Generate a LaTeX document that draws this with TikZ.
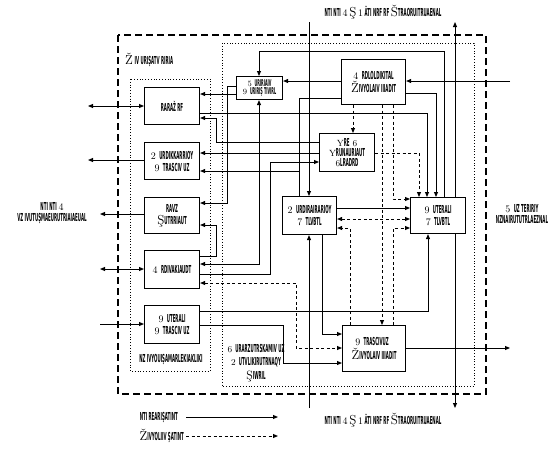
\documentclass[tikz,border=0pt]{standalone}
\usepackage{fontspec}
\newfontfamily\czf{DejaVu Sans}
\usetikzlibrary{arrows.meta}
\newcommand{\cz}[1]{\scalebox{0.36}[1]{\czf\bfseries\fontsize{11}{12}\selectfont #1}}
\tikzset{
  box/.style={draw, line width=1.1pt, anchor=north west, inner sep=1pt, align=center, font=\fontsize{10}{11}\selectfont},
  ln/.style={line width=0.9pt},
  arr/.style={ln, -{Triangle[length=5pt,width=4pt]}},
  arrb/.style={ln, {Triangle[length=5pt,width=4pt]}-{Triangle[length=5pt,width=4pt]}},
  darr/.style={arr, dash pattern=on 3pt off 2.5pt},
  darrb/.style={arrb, dash pattern=on 3pt off 2.5pt},
  lbl/.style={font=\fontsize{10}{11}\selectfont, inner sep=0pt, align=center},
}
\begin{document}
\begin{tikzpicture}[x=1pt,y=-1pt]
\useasboundingbox (0,0) rectangle (554,459);
% frames
\draw[line width=1.2pt, dash pattern=on 7pt off 4pt] (118,35) rectangle (486,394);
\draw[line width=0.8pt, dotted] (130,79) rectangle (210,371);
\draw[line width=0.8pt, dotted] (222,43) rectangle (474,386);
% boxes
\node[box, minimum width=55pt, minimum height=37pt] (B1) at (144,87) {\cz{RARA\v{Z} RF}};
\node[box, minimum width=55pt, minimum height=37pt] (B2) at (144,142) {2 \cz{URDIKKARRIOY}\\[1pt]9 \cz{TRASCIV UZ}};
\node[box, minimum width=55pt, minimum height=36pt] (B3) at (144,197) {\cz{RAVZ}\\[1pt]\fontsize{13}{13}\selectfont Ş\fontsize{10}{11}\selectfont\cz{UTRRIAUT}};
\node[box, minimum width=55pt, minimum height=38pt] (B4) at (144,250) {4 \cz{RDIVAKIAUDT}};
\node[box, minimum width=55pt, minimum height=38pt] (B5) at (144,305) {9 \cz{UTERALI}\\[1pt]9 \cz{TRASCIV UZ}};
\node[box, minimum width=46pt, minimum height=23pt, font=\fontsize{8}{8.5}\selectfont] (BS) at (236,76) {5 \scalebox{0.85}{\cz{URIRIAIV}}\\9 \scalebox{0.85}{\cz{URIRIŞ TIVIRL}}};
\node[box, minimum width=64pt, minimum height=45pt] (BR) at (341,59) {4 \cz{RDLOLDIKITAL}\\[1pt]\fontsize{13}{13}\selectfont\v{Z}\fontsize{10}{11}\selectfont\cz{IVYOLAIV IIIADIT}};
\node[box, minimum width=55pt, minimum height=38pt, font=\fontsize{9}{10}\selectfont] (BY) at (319,133) {Y\cz{RE} 6\\Y\cz{RUNAURIAUT}\\6\cz{LRADRD}};
\node[box, minimum width=54pt, minimum height=38pt] (BL) at (282,196) {2 \cz{URDIRAIRARIOY}\\[1pt]7 \cz{TLVBTL}};
\node[box, minimum width=55pt, minimum height=36pt] (BM) at (410,197) {9 \cz{UTERALI}\\[1pt]7 \cz{TLVBTL}};
\node[box, minimum width=63pt, minimum height=46pt] (BB) at (342,325) {\hspace*{-4pt}9 \cz{TRASCIVUZ}\\[1pt]\fontsize{13}{13}\selectfont\v{Z}\fontsize{10}{11}\selectfont\cz{IVYOLAIV IIIADIT}};
% labels
\node[lbl, anchor=west] (Ltl) at (125,60) {\fontsize{13}{13}\selectfont\v{Z}\fontsize{10}{11}\selectfont\,\cz{IV URIŞATV RIRIA}};
\node[lbl] (Ltop) at (383,12) {\cz{NTI NTI}\,4\,\fontsize{13}{13}\selectfont Ş\fontsize{10}{11}\selectfont\,1\,\cz{ÃTI NRF RF}\,\fontsize{13}{13}\selectfont Š\fontsize{10}{11}\selectfont\cz{TRAORUITRUAENAL}};
\node[lbl] (Lbot) at (383,420) {\cz{NTI NTI}\,4\,\fontsize{13}{13}\selectfont Ş\fontsize{10}{11}\selectfont\,1\,\cz{ÃTI NRF RF}\,\fontsize{13}{13}\selectfont Š\fontsize{10}{11}\selectfont\cz{TRAORUITRUAENAL}};
\node[lbl] (Lleft) at (52,213) {\cz{NTI NTI}\,4\\\cz{VZ IVUTUŞMAEURUTRIAIAEUAL}};
\node[lbl] (Lright) at (522,214) {5 \cz{UZ TERIRIY}\\\cz{NZNAIRUTUTRLAEZNAL}};
\node[lbl] (Lb5) at (171,359) {\cz{NZ IVYOUIŞAMARLEKIAKLIKI}};
\node[lbl, font=\fontsize{9}{12}\selectfont] (Lbb) at (256,363) {6 \cz{URARZUTRSKAMIV UZ}\\[1pt]2 \cz{UTVLIKIRUTRNAQY}\\[2pt]\fontsize{12}{12}\selectfont Ş\fontsize{9}{10}\selectfont\cz{IWRIL}};
\node[lbl, anchor=east] (Lg1) at (178,417) {\cz{NTI REARIŞATINT}};
\node[lbl, anchor=east] (Lg2) at (184,436) {\fontsize{13}{13}\selectfont\v{Z}\fontsize{10}{11}\selectfont\cz{IVYOLIIV ŞATINT}};
% legend
\coordinate (g1a) at (186,417); \coordinate (g1b) at (278,417);
\coordinate (g2a) at (186,436); \coordinate (g2b) at (278,436);
\draw[arr] (g1a) -- (g1b);
\draw[darr] (g2a) -- (g2b);
% left side
\draw[arrb] (B1.west |- 0,106) -- (88,106);
\draw[arr] (B2.west |- 0,160) -- (88,160);
\draw[arr] (B3.west |- 0,214) -- (100,214);
\draw[arrb] (100,269) -- (B4.west |- 0,269);
\draw[arr] (100,324) -- (B5.west |- 0,324);
% right column, top
\draw[arr] (510,81) -- (BR.east |- 0,81);
\draw[arr] (BR.west |- 0,81) -- (BS.east |- 0,81);
\draw[arr] (BS.west |- 0,94) -- (B1.east |- 0,94);
\draw[arr] (BS.west |- 0,86) -- (227,86) -- (227,203) -- (B3.east |- 0,203);
\draw[arr] (BM.north -| 444,0) -- (444,51) -- (259,51) -- (BS.north -| 259,0);
\draw[arr] (BM.north -| 455,0) -- (455,22);
\draw[arr] (BM.south -| 455,0) -- (455,408);
\draw[arr] (309,22) -- (BL.north -| 309,0);
\draw[arr] (309,408) -- (BL.south -| 309,0);
\draw[arr] (B1.east |- 0,113) -- (427,113) -- (BM.north -| 427,0);
\draw[arr] (BR.east |- 0,93) -- (436,93) -- (BM.north -| 436,0);
\draw[arr] (BY.west |- 0,142) -- (216,142) -- (216,118) -- (B1.east |- 0,118);
\draw[arr] (BY.west |- 0,153) -- (B2.east |- 0,153);
\draw[arr] (B4.east |- 0,274) -- (270,274) -- (270,162) -- (BY.west |- 0,162);
\draw[ln] (BR.west |- 0,98) -- (299,98) -- (BL.north -| 299,0);
\draw[arr] (299,171) -- (B2.east |- 0,171);
\draw[arr] (B4.east |- 0,256) -- (216,256) -- (216,225) -- (B3.east |- 0,225);
\draw[arrb] (BS.south -| 259,0) -- (259,264) -- (B4.east |- 0,264);
% dashed from BR
\draw[darr] (BR.south -| 353,0) -- (BY.north -| 353,0);
\draw[darr] (BR.south -| 382,0) -- (BB.north -| 382,0);
\draw[darr] (BR.south -| 393,0) -- (393,199) -- (BM.west |- 0,199);
\draw[darr] (BY.east |- 0,153) -- (419,153) -- (BM.north -| 419,0);
% BL - BM
\draw[arr] (BL.east |- 0,208) -- (BM.west |- 0,208);
\draw[darrb] (BL.east |- 0,219) -- (BM.west |- 0,219);
\draw[darr] (BB.north -| 350,0) -- (350,228) -- (BL.east |- 0,228);
\draw[darr] (BB.north -| 393,0) -- (393,228) -- (BM.west |- 0,228);
\draw[arr] (BL.south -| 322,0) -- (322,334) -- (BB.west |- 0,334);
% lower
\draw[arr] (B5.east |- 0,311) -- (428,311) -- (BM.south -| 428,0);
\draw[arr] (B5.east |- 0,325) -- (283,325) -- (283,363) -- (BB.west |- 0,363);
\draw[darrb] (B4.east |- 0,283) -- (296,283) -- (296,348) -- (BB.west |- 0,348);
\draw[arr] (BB.east |- 0,348) -- (510,348);
\end{tikzpicture}
\end{document}
